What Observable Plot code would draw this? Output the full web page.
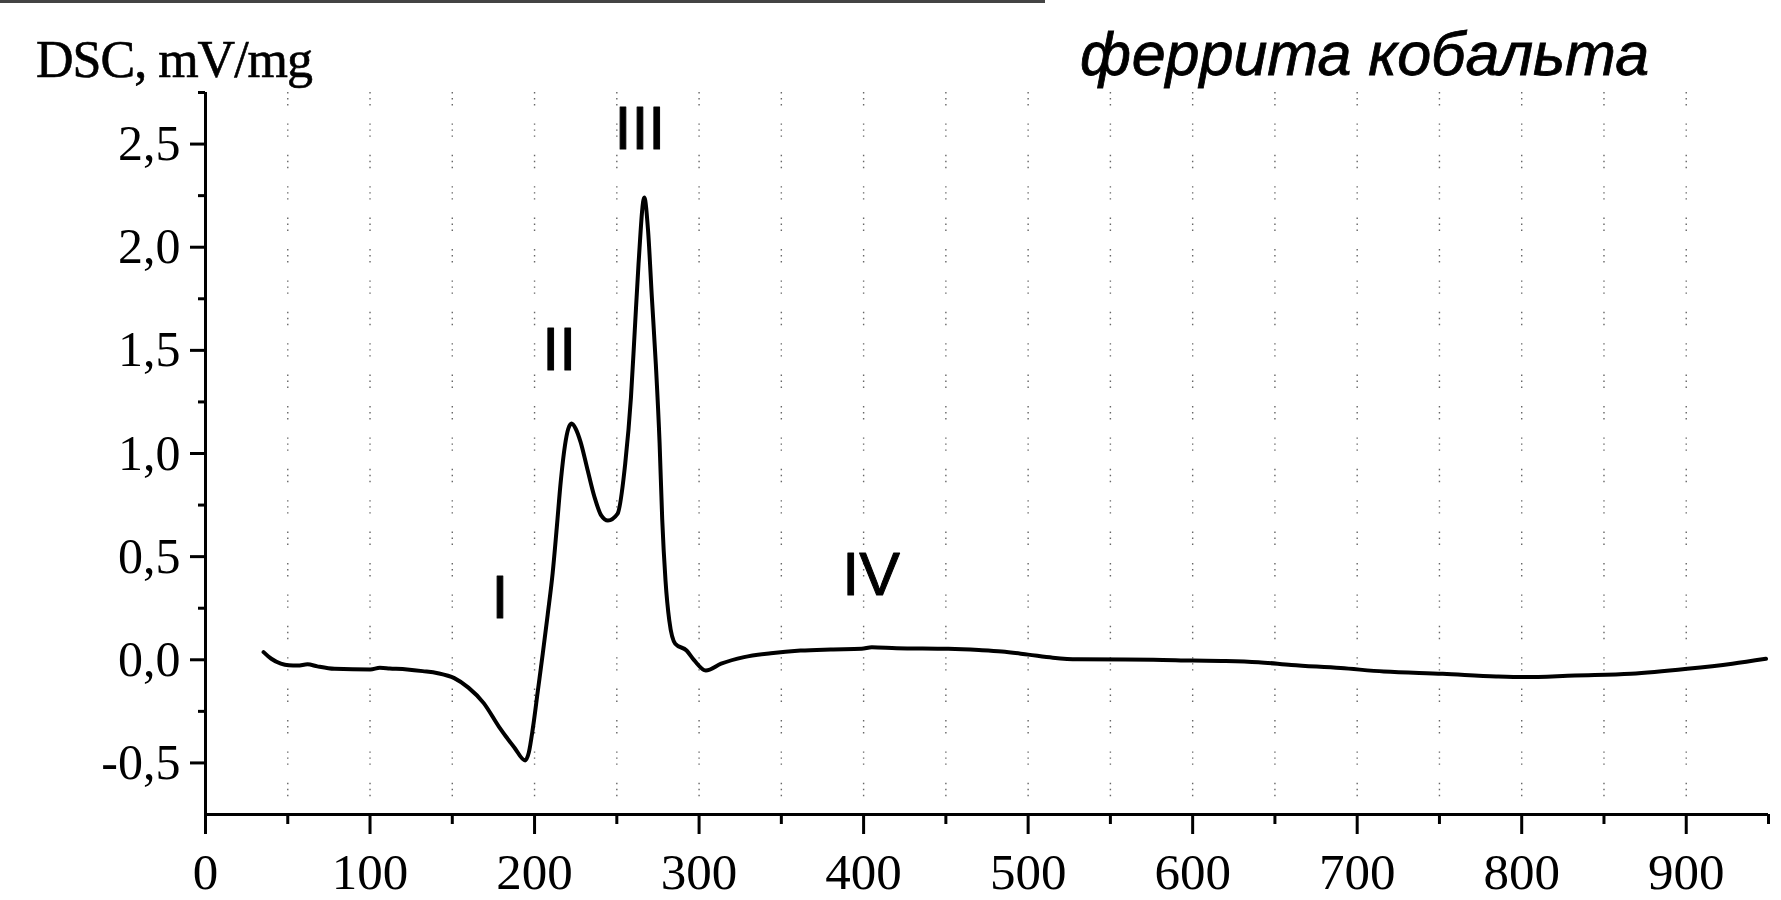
<!DOCTYPE html>
<html>
<head>
<meta charset="utf-8">
<script src="https://cdn.jsdelivr.net/npm/d3@7"></script>
<script src="https://cdn.jsdelivr.net/npm/@observablehq/plot@0.6"></script>
<style>
  body { margin: 0; background: #fff; }
  #wrap { position: relative; width: 1781px; height: 900px; overflow: hidden; background: #fff; }
  #bar { position: absolute; left: 0; top: 0; width: 1045px; height: 3px; background: #444; }
  #ylab { position: absolute; left: 36px; top: 34px; font: 52px/52px 'Liberation Serif', serif; color: #000; white-space: nowrap; letter-spacing: -1px; -webkit-text-stroke: 0.6px #000; }
  #note { position: absolute; left: 1080px; top: 24px; font: italic 61px/61px 'Liberation Sans', sans-serif; color: #000; white-space: nowrap; -webkit-text-stroke: 0.8px #000; }
  #chart { position: absolute; left: 0; top: 0; }
</style>
</head>
<body>
<div id="wrap">
  <div id="chart"></div>
  <div id="bar"></div>
  <div id="ylab">DSC, mV/mg</div>
  <div id="note">феррита кобальта</div>
</div>
<script>
// Temperature (°C) and DSC signal (mV/mg)
const temperature = [
  35.3, 40, 45.8, 50.5, 56, 62, 68, 78.4, 100.2, 106, 112, 122.6, 132, 141.2, 151.2,
  159.8, 169.1, 178.4, 187.7, 194.3, 196.5, 199, 202, 205, 208, 211, 213.5, 216,
  218.5, 220.5, 222.5, 225, 228, 231.8, 236.4, 240.5, 244.6, 250.4, 255.1, 258.6, 260.9, 263.2, 266.7, 269,
  271.3, 273.7, 276, 277.6, 279.6, 281.9, 285.5, 292.4, 297.1, 304.1, 313.4, 327.3, 343.6,
  361.7, 380, 398.8, 405, 420, 451.5, 470, 484, 500, 515, 530, 576.2, 600, 620, 640, 660, 690,
  716.2, 752, 784.5, 801.6, 832.3, 866.4, 900.6, 928, 948.5
];
const dsc = [
  0.037, 0.005, -0.019, -0.027, -0.028, -0.022, -0.032, -0.044, -0.047, -0.039, -0.042, -0.047, -0.055, -0.065, -0.089,
  -0.135, -0.21, -0.325, -0.425, -0.488, -0.45, -0.33, -0.15, 0.03, 0.22, 0.42, 0.64, 0.87,
  1.04, 1.12, 1.145, 1.12, 1.055, 0.935, 0.79, 0.70, 0.675, 0.707, 0.95, 1.272, 1.595, 1.919, 2.241, 2.08,
  1.757, 1.434, 1.05, 0.68, 0.384, 0.19, 0.078, 0.045, -0.003, -0.052, -0.019, 0.013, 0.032,
  0.045, 0.05, 0.053, 0.061, 0.056, 0.053, 0.047, 0.04, 0.025, 0.01, 0.002, 0.0, -0.004, -0.006, -0.012, -0.025, -0.04,
  -0.057, -0.068, -0.081, -0.084, -0.076, -0.068, -0.044, -0.019, 0.005
];

// Peak annotations
const peakNames = ["I", "II", "III", "IV"];
const peakX = [179, 215, 264, 404.5];
const peakY = [0.297, 1.498, 2.573, 0.41];

// Ticks
const xMajorTicks = [0, 100, 200, 300, 400, 500, 600, 700, 800, 900];
const xMinorTicks = [50, 150, 250, 350, 450, 550, 650, 750, 850, 950];
const xGridTicks = [50, 100, 150, 200, 250, 300, 350, 400, 450, 500, 550, 600, 650, 700, 750, 800, 850, 900];
const yMajorTicks = [-0.5, 0, 0.5, 1.0, 1.5, 2.0, 2.5];
const yMinorTicks = [-0.25, 0.25, 0.75, 1.25, 1.75, 2.25, 2.75];

const curve = temperature.map((t, i) => ({t, v: dsc[i]}));
const peaks = peakNames.map((n, i) => ({n, x: peakX[i], y: peakY[i]}));
const commaFmt = d => d.toFixed(1).replace(".", ",");

const chart = Plot.plot({
  width: 1781,
  height: 900,
  marginLeft: 205,
  marginRight: 13,
  marginTop: 92,
  marginBottom: 86,
  style: { fontFamily: "'Liberation Serif', serif", background: "transparent", overflow: "visible", color: "#000" },
  x: { domain: [0, 950] },
  y: { domain: [-0.75, 2.75] },
  marks: [
    Plot.gridX({ ticks: xGridTicks, stroke: "#666", strokeOpacity: 1, strokeWidth: 1.4, strokeDasharray: "1.4,4.6,1.4,4.6,1.4,18" }),
    Plot.axisX({ ticks: xMajorTicks, tickSize: 20, tickPadding: 18, fontSize: 51, strokeWidth: 3, tickFormat: d => String(d), label: null }),
    Plot.axisX({ ticks: xMinorTicks, tickSize: 10, strokeWidth: 3, tickFormat: () => "", label: null }),
    Plot.axisY({ ticks: yMajorTicks, tickSize: 15, tickPadding: 10, fontSize: 50, strokeWidth: 3, tickFormat: commaFmt, label: null }),
    Plot.axisY({ ticks: yMinorTicks, tickSize: 7, strokeWidth: 3, tickFormat: () => "", label: null }),
    Plot.ruleY([-0.75], { strokeWidth: 3 }),
    Plot.ruleX([0], { strokeWidth: 3 }),
    Plot.line(curve, { x: "t", y: "v", curve: "monotone-x", strokeWidth: 4, stroke: "#000" }),
    Plot.text(peaks, { x: "x", y: "y", text: "n", fontSize: 61, fontFamily: "'Liberation Sans', sans-serif", fill: "#000", stroke: "#000", strokeWidth: 1 })
  ]
});
document.getElementById("chart").appendChild(chart);
</script>
</body>
</html>
